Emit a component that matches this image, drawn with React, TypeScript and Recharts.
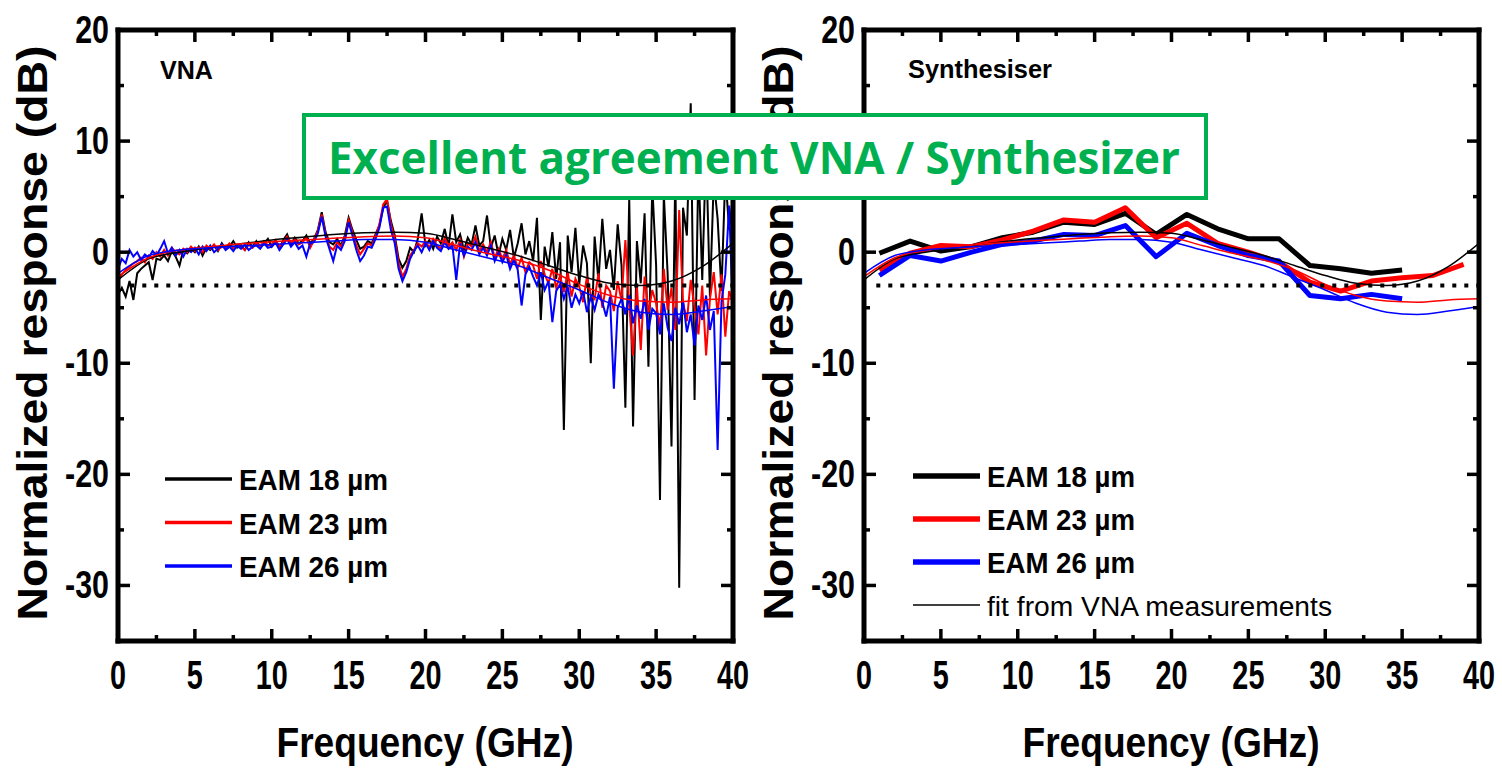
import React from 'react';
import { LineChart, Line, XAxis, YAxis, ReferenceLine, Legend } from 'recharts';

// VNA sweep: one sample every VNA_STEP GHz starting at 0 GHz, normalized response in dB
const VNA_STEP = 0.25;

const vnaEam18 = [
  -3.8, -3.2, -4.0, -2.6,
  -4.3, -1.9, -1.5, -1.2,
  -0.9, -2.5, -0.6, -0.7,
  -0.3, -0.8, 0.1, -0.4,
  -1.2, 0.2, -0.1, 0.3,
  0.0, 0.5, -0.3, 0.4,
  0.2, 0.6, 0.1, 0.8,
  0.3, 0.5, 1.0, 0.4,
  0.6, 0.2, 0.9, 0.5,
  1.0, 0.4, 0.8, 1.2,
  0.5, 0.9, 0.3, 1.1,
  1.6, 0.7, 1.3, 0.8,
  1.0, 1.5, 0.8, 1.2,
  2.0, 3.6, 1.8, 0.9,
  0.7, 1.2, 0.6, 1.5,
  3.1, 2.0, 1.1, 0.3,
  0.5, 1.0, 0.8, 1.6,
  2.4, 4.0, 4.6, 2.8,
  1.5, -0.6, -1.4, -0.8,
  0.4, 0.0, 1.2, 3.5,
  0.6, 1.1, 0.3, 1.4,
  0.8, 2.1, 0.5, 3.4,
  0.9, 1.6, 0.2, 1.3,
  0.7, 2.4, 0.6, 1.0,
  3.3, 0.4, 1.5, -0.3,
  1.2, 0.2, 2.0, -0.5,
  0.8, 2.6, -0.2, 1.0,
  -0.8, 3.1, -6.1, 0.5,
  -1.3, 1.8, -2.4, 0.9,
  -16.0, 1.5, -1.8, 2.2,
  -2.9, 0.6, -1.0, -10.0,
  1.4, -2.6, 3.0, -1.5,
  0.2, -3.4, 2.5, -1.2,
  -14.0, 4.8, -15.7, 1.0,
  -2.8, 3.5, -10.3, 6.0,
  -1.2, -22.3, 5.2, -2.0,
  -17.5, 7.5, -30.2, 4.0,
  1.5, 13.4, -13.3, 8.0,
  -2.5, 9.5, -4.0, 6.5,
  3.0, -3.5, 7.0, 2.0,
  5.0,
];

const vnaEam23 = [
  -2.6, -2.0, -1.6, -1.3,
  -1.0, -0.8, -0.5, -0.9,
  -0.3, -0.6, 0.0, -0.4,
  0.2, -0.3, 0.4, 0.0,
  -0.2, 0.3, 0.0, 0.5,
  0.1, 0.4, 0.0, 0.6,
  0.3, 0.7, 0.2, 0.5,
  0.4, 0.8, 0.3, 0.6,
  0.5, 0.2, 0.7, 0.4,
  0.8, 0.5, 1.0, 0.6,
  0.7, 1.1, 0.5, 0.9,
  1.4, 0.8, 1.1, 0.7,
  0.9, 1.3, 0.4, 1.1,
  1.9, 3.4, 1.6, 0.5,
  0.2, 0.9, 0.5, 1.2,
  2.9, 1.8, 0.6, -0.2,
  0.3, 0.8, 0.6, 1.4,
  2.5, 4.3, 4.8, 2.5,
  1.2, -1.0, -2.2, -1.5,
  -0.3, 0.2, 0.8, 0.5,
  1.0, 0.4, 1.2, 0.6,
  0.3, 1.3, 0.5, 0.9,
  0.2, 1.1, -0.4, 0.8,
  0.5, 1.4, 0.1, 0.7,
  0.0, 0.9, -0.5, 0.3,
  -0.6, 0.2, -1.1, -0.3,
  -1.4, -0.5, -1.8, -0.9,
  -1.2, -2.4, -0.8, -2.0,
  -2.8, -1.5, -3.2, -2.1,
  -3.6, -1.8, -4.0, -2.4,
  -3.1, -4.5, -2.2, -3.8,
  -4.2, -1.9, -5.0, -3.0,
  -3.5, -5.3, -2.6, -4.4,
  1.1, -4.8, -9.3, -3.0,
  -8.8, -2.2, -5.5, -3.4,
  -4.6, -6.8, -1.5, -5.2,
  -3.2, -7.0, 3.8, -4.5,
  -6.2, -2.5, -5.0, -7.4,
  -3.0, -9.3, -4.2, -1.8,
  -5.6, -2.0, -7.6, -3.5,
  -4.5,
];

const vnaEam26 = [
  -1.5, -0.6, -1.0, 0.2,
  -0.4, 0.0, -0.7, -0.2,
  -0.5, 0.1, -0.3, 0.3,
  1.0, -0.1, 0.4, -0.3,
  0.2, -0.4, 0.3, 0.0,
  0.4, -0.2, 0.5, 0.1,
  0.6, 0.0, 0.3, 0.7,
  0.2, 0.5, 0.1, 0.6,
  0.3, 0.7, 0.2, 0.5,
  0.6, 0.3, 0.8, 0.4,
  0.5, 0.9, 0.2, 0.7,
  1.2, 0.5, 0.9, 0.3,
  0.6, -0.4, 0.8, 0.9,
  1.7, 3.2, 1.4, 0.3,
  -0.8, 0.6, 0.2, 1.0,
  2.7, 1.5, 0.2, -0.8,
  -0.3, 0.5, 0.4, 1.2,
  2.2, 4.0, 4.1, 2.0,
  0.8, -1.5, -2.6, -1.8,
  -0.6, 0.1, 0.6, 0.0,
  0.8, 0.2, 1.0, 0.4,
  0.1, 0.9, 0.3, 0.6,
  -2.5, 0.8, -0.3, 0.5,
  0.2, 0.9, -0.2, 0.4,
  -0.3, 0.6, -0.8, 0.0,
  -0.9, -0.2, -1.5, -0.7,
  -1.6, -4.8, -2.0, -1.3,
  -2.2, -3.0, -1.8, -3.4,
  -2.6, -6.3, -3.5, -2.9,
  -4.2, -3.1, -5.0, -3.8,
  -4.6, -3.5, -5.4, -4.0,
  -5.2, -3.8, -4.5, -5.8,
  -4.0, -12.3, -5.0, -4.2,
  -5.6, -3.9, -6.4, -4.8,
  -6.0, -4.2, -7.0, -5.1,
  -5.5, -7.4, -4.6, -6.8,
  -8.0, -5.0, -6.5, -4.4,
  -7.2, -5.6, -8.4, -4.8,
  -6.1, -3.9, -7.0, -5.3,
  -17.8, -4.5, -2.0, 4.2,
  -6.0,
];

// synthesiser measurements (GHz / dB)
const synthFreq = [1, 3, 5, 7, 9, 11, 13, 15, 17, 19, 21, 23, 25, 27, 29, 31, 33, 35];
const synthFreq23 = [1, 3, 5, 7, 9, 11, 13, 15, 17, 19, 21, 23, 25, 27, 29, 31, 33, 35, 37, 39];
const synthEam18 = [-0.1, 1.0, 0.1, 0.5, 1.3, 1.8, 2.7, 2.5, 3.5, 1.6, 3.4, 2.1, 1.2, 1.2, -1.2, -1.5, -1.9, -1.6];
const synthEam23 = [-1.6, -0.1, 0.6, 0.5, 1.1, 1.9, 2.9, 2.7, 4.0, 1.3, 2.6, 0.8, 0.0, -0.9, -2.7, -3.5, -2.6, -2.3, -2.1, -1.1];
const synthEam26 = [-2.1, -0.3, -0.8, 0.0, 0.7, 1.0, 1.6, 1.5, 2.4, -0.4, 1.7, 0.6, -0.3, -0.8, -3.9, -4.2, -3.8, -4.2];

// fits from the VNA measurements
const fitFreq = [0, 2, 4, 6, 8, 10, 12, 14, 16, 18, 20, 22, 24, 26, 28, 30, 32, 34, 36, 38, 40];
const fitEam18 = [-2.5, -0.6, 0.0, 0.4, 0.75, 1.1, 1.35, 1.6, 1.75, 1.8, 1.7, 1.1, 0.4, -0.3, -1.2, -2.1, -2.8, -3.0, -2.6, -1.3, 0.8];
const fitEam23 = [-2.2, -0.5, 0.2, 0.5, 0.75, 0.95, 1.1, 1.25, 1.4, 1.45, 1.3, 0.6, -0.1, -0.7, -1.6, -2.9, -3.9, -4.4, -4.5, -4.3, -4.2];
const fitEam26 = [-1.9, -0.3, 0.2, 0.4, 0.55, 0.7, 0.85, 1.0, 1.15, 1.15, 0.9, 0.2, -0.5, -1.2, -2.3, -3.4, -4.6, -5.4, -5.6, -5.3, -4.9];

const seriesNames = ['EAM 18 µm', 'EAM 23 µm', 'EAM 26 µm'];
const seriesColors = ['#000000', '#ff0000', '#0000ff'];
const fitName = 'fit from VNA measurements';

const xTicks = [0, 2.5, 5, 7.5, 10, 12.5, 15, 17.5, 20, 22.5, 25, 27.5, 30, 32.5, 35, 37.5, 40];
const yTicks = [-30, -25, -20, -15, -10, -5, 0, 5, 10, 15, 20];
const THRESHOLD_DB = -3;

const CHART_W = 760;
const CHART_H = 771;
// axes are 1px thick boxes, so the plot runs x 118..733, y 30..641
const MARGIN = { top: 29, right: 26, bottom: 129, left: 117 };
const FONT = "'Liberation Sans', Arial, Helvetica, sans-serif";
const AXIS_LINE = { stroke: '#000', strokeWidth: 5, strokeLinecap: 'square' };

const vnaPoints = (values: number[]) => values.map((v, i) => ({ f: i * VNA_STEP, v }));
const toPoints = (freqs: number[], values: number[]) => values.map((v, i) => ({ f: freqs[i], v }));

const BottomTick = ({ x, y, payload }: any) => {
  const major = payload.value % 5 === 0;
  return (
    <g>
      <line x1={x} x2={x} y1={y} y2={y - (major ? 12 : 6)} stroke="#000" strokeWidth={3.5} />
      {major && (
        <text transform={`translate(${x},${y + 48}) scale(0.72,1)`} textAnchor="middle"
          fontSize={40} fontWeight="bold" fontFamily={FONT} fill="#000">{payload.value}</text>
      )}
    </g>
  );
};

const TopTick = ({ x, y, payload }: any) => {
  const major = payload.value % 5 === 0;
  return <line x1={x} x2={x} y1={y} y2={y + (major ? 12 : 6)} stroke="#000" strokeWidth={3.5} />;
};

// `hidden` = labels that sit under the green banner
const LeftTick = ({ x, y, payload, hidden }: any) => {
  const major = payload.value % 10 === 0;
  const showLabel = major && !hidden.includes(payload.value);
  return (
    <g>
      <line x1={x} x2={x + (major ? 12 : 6)} y1={y} y2={y} stroke="#000" strokeWidth={3.5} />
      {showLabel && (
        <text transform={`translate(${x - 9},${y + 13}) scale(0.8,1)`} textAnchor="end"
          fontSize={38} fontWeight="bold" fontFamily={FONT} fill="#000">{payload.value}</text>
      )}
    </g>
  );
};

const RightTick = ({ x, y, payload }: any) => {
  const major = payload.value % 10 === 0;
  return <line x1={x} x2={x - (major ? 12 : 6)} y1={y} y2={y} stroke="#000" strokeWidth={3.5} />;
};

const frameAxes = (hiddenLabels: number[]) => [
  <XAxis key="xb" xAxisId="b" dataKey="f" type="number" domain={[0, 40]} ticks={xTicks} interval={0}
    height={1} tickSize={0} tickMargin={0} tickLine={false} axisLine={AXIS_LINE}
    tick={(p: any) => <BottomTick {...p} />} allowDataOverflow />,
  <XAxis key="xt" xAxisId="t" orientation="top" dataKey="f" type="number" domain={[0, 40]} ticks={xTicks}
    interval={0} height={1} tickSize={0} tickMargin={0} tickLine={false} axisLine={AXIS_LINE}
    tick={(p: any) => <TopTick {...p} />} allowDataOverflow />,
  <YAxis key="yl" yAxisId="l" type="number" domain={[-35, 20]} ticks={yTicks} interval={0}
    width={1} tickSize={0} tickMargin={0} tickLine={false} axisLine={AXIS_LINE}
    tick={(p: any) => <LeftTick {...p} hidden={hiddenLabels} />} allowDataOverflow />,
  <YAxis key="yr" yAxisId="r" orientation="right" type="number" domain={[-35, 20]} ticks={yTicks}
    interval={0} width={1} tickSize={0} tickMargin={0} tickLine={false} axisLine={AXIS_LINE}
    tick={(p: any) => <RightTick {...p} />} allowDataOverflow />,
];

// only the first `lineWidths.length` entries are listed (the other fits stay out of the legend)
const legendContent = (lineWidths: number[], textLengths: number[], weights: string[], sizes: number[], gap: number) =>
  ({ payload }: any) => (
    <svg width={420} height={190} style={{ display: 'block', overflow: 'visible' }}>
      {(payload || []).slice(0, lineWidths.length).map((p: any, i: number) => {
        const y = 20 + i * gap;
        return (
          <g key={p.value}>
            <line x1={5} x2={72} y1={y} y2={y} stroke={p.color} strokeWidth={lineWidths[i]} />
            <text x={79} y={y + 11} fontSize={sizes[i]} fontWeight={weights[i]} fontFamily={FONT} fill="#000"
              textLength={textLengths[i]} lengthAdjust="spacingAndGlyphs">{p.value}</text>
          </g>
        );
      })}
    </svg>
  );

const titles = (
  <>
    <text transform="translate(47,333) rotate(-90)" textAnchor="middle" fontSize={42} fontWeight="bold"
      fontFamily={FONT} fill="#000" textLength={575} lengthAdjust="spacingAndGlyphs">Normalized response (dB)</text>
    <text x={425} y={757} textAnchor="middle" fontSize={42} fontWeight="bold" fontFamily={FONT} fill="#000"
      textLength={297} lengthAdjust="spacingAndGlyphs">Frequency (GHz)</text>
  </>
);

const vnaSeries = [vnaEam18, vnaEam23, vnaEam26];
const synthSeries = [toPoints(synthFreq, synthEam18), toPoints(synthFreq23, synthEam23), toPoints(synthFreq, synthEam26)];
const fitSeries = [fitEam18, fitEam23, fitEam26];

const VnaPanel = () => (
  <div style={{ position: 'absolute', left: 0, top: 0, width: CHART_W, height: CHART_H }}>
    <LineChart width={CHART_W} height={CHART_H} margin={MARGIN}>
      {frameAxes([])}
      {vnaSeries.map((vals, i) => (
        <Line key={seriesNames[i]} xAxisId="b" yAxisId="l" data={vnaPoints(vals)} dataKey="v" name={seriesNames[i]}
          stroke={seriesColors[i]} strokeWidth={2} dot={false} isAnimationActive={false} />
      ))}
      {fitSeries.map((vals, i) => (
        <Line key={'fit' + i} xAxisId="b" yAxisId="l" data={toPoints(fitFreq, vals)} dataKey="v" type="monotone"
          name={fitName + ' ' + i} stroke={seriesColors[i]} strokeWidth={1.5} dot={false} legendType="none"
          isAnimationActive={false} />
      ))}
      <ReferenceLine xAxisId="b" yAxisId="l" segment={[{ x: 0.8, y: THRESHOLD_DB }, { x: 40, y: THRESHOLD_DB }]}
        stroke="#000" strokeWidth={4} strokeDasharray="4 8" />
      <Legend layout="vertical" align="center" verticalAlign="middle"
        wrapperStyle={{ left: 160, top: 459, width: 420 }}
        content={legendContent([3.5, 3.5, 3.5], [149, 149, 149], ['bold', 'bold', 'bold'], [30, 30, 30], 43.5)} />
    </LineChart>
    <svg width={CHART_W} height={CHART_H} style={{ position: 'absolute', left: 0, top: 0, pointerEvents: 'none' }}>
      {titles}
    </svg>
  </div>
);

const SynthPanel = () => (
  <div style={{ position: 'absolute', left: 746, top: 0, width: CHART_W, height: CHART_H }}>
    <LineChart width={CHART_W} height={CHART_H} margin={MARGIN}>
      {frameAxes([10])}
      {synthSeries.map((pts, i) => (
        <Line key={seriesNames[i]} xAxisId="b" yAxisId="l" data={pts} dataKey="v" name={seriesNames[i]}
          stroke={seriesColors[i]} strokeWidth={5} strokeLinejoin="round" dot={false} isAnimationActive={false} />
      ))}
      {fitSeries.map((vals, i) => (
        <Line key={'fit' + i} xAxisId="b" yAxisId="l" data={toPoints(fitFreq, vals)} dataKey="v" type="monotone"
          name={i === 0 ? fitName : fitName + ' ' + i} stroke={seriesColors[i]} strokeWidth={1.5} dot={false}
          legendType={i === 0 ? 'line' : 'none'} isAnimationActive={false} />
      ))}
      <ReferenceLine xAxisId="b" yAxisId="l" segment={[{ x: 0.8, y: THRESHOLD_DB }, { x: 40, y: THRESHOLD_DB }]}
        stroke="#000" strokeWidth={4} strokeDasharray="4 8" />
      <Legend layout="vertical" align="center" verticalAlign="middle"
        wrapperStyle={{ left: 162, top: 456, width: 420 }}
        content={legendContent([5.5, 5.5, 5.5, 1.5], [148, 148, 148, 345], ['bold', 'bold', 'bold', 'normal'], [30, 30, 30, 27], 43)} />
    </LineChart>
    <svg width={CHART_W} height={CHART_H} style={{ position: 'absolute', left: 0, top: 0, pointerEvents: 'none' }}>
      {titles}
    </svg>
  </div>
);

export default function App() {
  return (
    <div style={{ position: 'absolute', left: 0, top: 0, width: 1502, height: 771, background: '#fff', overflow: 'hidden' }}>
      <VnaPanel />
      <SynthPanel />
      <svg width={1502} height={771} style={{ position: 'absolute', left: 0, top: 0, pointerEvents: 'none' }}>
        <text x={160} y={79} fontSize={26} fontWeight="bold" fontFamily={FONT} fill="#000"
          textLength={53} lengthAdjust="spacingAndGlyphs">VNA</text>
        <text x={908} y={78} fontSize={26} fontWeight="bold" fontFamily={FONT} fill="#000"
          textLength={144} lengthAdjust="spacingAndGlyphs">Synthesiser</text>
        <rect x={304} y={115} width={902} height={83} fill="#fff" stroke="#00B050" strokeWidth={4} />
        <text x={754} y={174} textAnchor="middle" fontSize={44} fontWeight="bold" fontFamily="'Open Sans', 'Noto Sans', sans-serif"
          fill="#00B050" textLength={852} lengthAdjust="spacingAndGlyphs">Excellent agreement VNA / Synthesizer</text>
      </svg>
    </div>
  );
}
